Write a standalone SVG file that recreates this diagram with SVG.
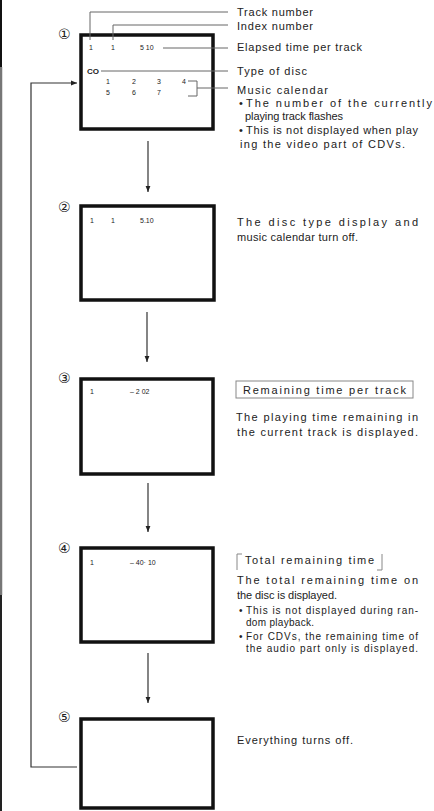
<svg xmlns="http://www.w3.org/2000/svg" width="434" height="811" viewBox="0 0 434 811">
<defs>
<style>
.t{font-family:"Liberation Sans","DejaVu Sans",sans-serif;font-size:11px;fill:#222}
.s{font-family:"Liberation Sans","DejaVu Sans",sans-serif;font-size:7px;fill:#222}
.c{font-family:"DejaVu Sans",sans-serif;font-size:14px;fill:#222}
.scr{fill:#fff;stroke:#111;stroke-width:3.5}
.ld{fill:none;stroke:#666;stroke-width:1}
.cn{fill:none;stroke:#333;stroke-width:1.2}
.fr{fill:none;stroke:#888;stroke-width:1}
</style>
<marker id="ah" viewBox="0 0 10 10" refX="10" refY="5" markerWidth="6" markerHeight="6" orient="auto" markerUnits="userSpaceOnUse"><path d="M0,1 L10,5 L0,9 Z" fill="#222"/></marker>
</defs>
<rect width="434" height="811" fill="#fff"/>
<g id="page-edge">
<line x1="1" y1="0" x2="1" y2="67" stroke="#111" stroke-width="2"/>
<line x1="1" y1="67" x2="1" y2="595" stroke="#777" stroke-width="2.5"/>
<line x1="1" y1="595" x2="1" y2="811" stroke="#222" stroke-width="2"/>
</g>
<g id="connectors">
<line class="cn" x1="148" y1="141" x2="148" y2="192" marker-end="url(#ah)"/>
<line class="cn" x1="147" y1="312" x2="147" y2="362" marker-end="url(#ah)"/>
<line class="cn" x1="148" y1="483" x2="148" y2="532" marker-end="url(#ah)"/>
<line class="cn" x1="148" y1="653" x2="148" y2="703" marker-end="url(#ah)"/>
<path class="cn" d="M77,767 H31 V83 H77" marker-end="url(#ah)"/>
</g>
<g id="screen1">
<text class="c" x="58" y="39">①</text>
<rect class="scr" x="81" y="35" width="132" height="94"/>
<text class="s" x="89" y="50">1</text>
<text class="s" x="111" y="50">1</text>
<text class="s" x="140" y="50">5 10</text>
<text class="s" x="87" y="74" style="font-size:8px;font-weight:bold">CO</text>
<text class="s" x="106" y="84">1</text><text class="s" x="132" y="84">2</text><text class="s" x="157" y="84">3</text><text class="s" x="182" y="84">4</text>
<text class="s" x="106" y="95">5</text><text class="s" x="132" y="95">6</text><text class="s" x="157" y="95">7</text>
<path class="ld" d="M90,40 V12 H228"/>
<path class="ld" d="M113,40 V25 H228"/>
<path class="ld" d="M163,48 H228"/>
<path class="ld" d="M101,71 H228"/>
<path class="ld" d="M188,81 H197 V96 H188 M197,88 H228"/>
<text class="t" x="237" y="16" textLength="76" lengthAdjust="spacing">Track number</text>
<text class="t" x="237" y="30" textLength="76" lengthAdjust="spacing">Index number</text>
<text class="t" x="237" y="51" textLength="125" lengthAdjust="spacing">Elapsed time per track</text>
<text class="t" x="237" y="75" textLength="70" lengthAdjust="spacing">Type of disc</text>
<text class="t" x="237" y="94" textLength="91" lengthAdjust="spacing">Music calendar</text>
<text class="t" x="239" y="107">•</text>
<text class="t" x="246" y="107" textLength="186" lengthAdjust="spacing">The number of the currently</text>
<text class="t" x="245" y="120" textLength="98" lengthAdjust="spacing">playing track flashes</text>
<text class="t" x="239" y="134">•</text>
<text class="t" x="246" y="134" textLength="172" lengthAdjust="spacing">This is not displayed when play</text>
<text class="t" x="240" y="148" textLength="165" lengthAdjust="spacing">ing the video part of CDVs.</text>
</g>
<g id="screen2">
<text class="c" x="58" y="212">②</text>
<rect class="scr" x="81" y="206" width="133" height="94"/>
<text class="s" x="90" y="223">1</text>
<text class="s" x="111" y="223">1</text>
<text class="s" x="140" y="223">5.10</text>
<text class="t" x="237" y="226" textLength="181" lengthAdjust="spacing">The disc type display and</text>
<text class="t" x="237" y="241" textLength="121" lengthAdjust="spacing">music calendar turn off.</text>
</g>
<g id="screen3">
<text class="c" x="58" y="383">③</text>
<rect class="scr" x="81" y="379" width="132" height="95"/>
<text class="s" x="90" y="394">1</text>
<text class="s" x="130" y="394">– 2 02</text>
<rect class="fr" x="236" y="381" width="177" height="17"/>
<text class="t" x="243" y="394" textLength="163" lengthAdjust="spacing">Remaining time per track</text>
<text class="t" x="236" y="421" textLength="182" lengthAdjust="spacing">The playing time remaining in</text>
<text class="t" x="237" y="436" textLength="181" lengthAdjust="spacing">the current track is displayed.</text>
</g>
<g id="screen4">
<text class="c" x="58" y="553">④</text>
<rect class="scr" x="81" y="548" width="132" height="94"/>
<text class="s" x="90" y="565">1</text>
<text class="s" x="130" y="565">– 40· 10</text>
<path class="fr" d="M242,554 H237 V570 M377,570 H382 V554"/>
<text class="t" x="245" y="564" textLength="129" lengthAdjust="spacing">Total remaining time</text>
<text class="t" x="237" y="584" textLength="181" lengthAdjust="spacing">The total remaining time on</text>
<text class="t" x="237" y="599" textLength="100" lengthAdjust="spacing">the disc is displayed.</text>
<text class="t" x="239" y="614" style="font-size:10px">•</text>
<text class="t" x="246" y="614" style="font-size:10px" textLength="172" lengthAdjust="spacing">This is not displayed during ran-</text>
<text class="t" x="246" y="626" style="font-size:10px" textLength="68" lengthAdjust="spacing">dom playback.</text>
<text class="t" x="239" y="640" style="font-size:10px">•</text>
<text class="t" x="246" y="640" style="font-size:10px" textLength="172" lengthAdjust="spacing">For CDVs, the remaining time of</text>
<text class="t" x="246" y="652" style="font-size:10px" textLength="172" lengthAdjust="spacing">the audio part only is displayed.</text>
</g>
<g id="screen5">
<text class="c" x="58" y="722">⑤</text>
<rect class="scr" x="81" y="719" width="132" height="89"/>
<text class="t" x="237" y="744" textLength="116" lengthAdjust="spacing">Everything turns off.</text>
</g>
</svg>
